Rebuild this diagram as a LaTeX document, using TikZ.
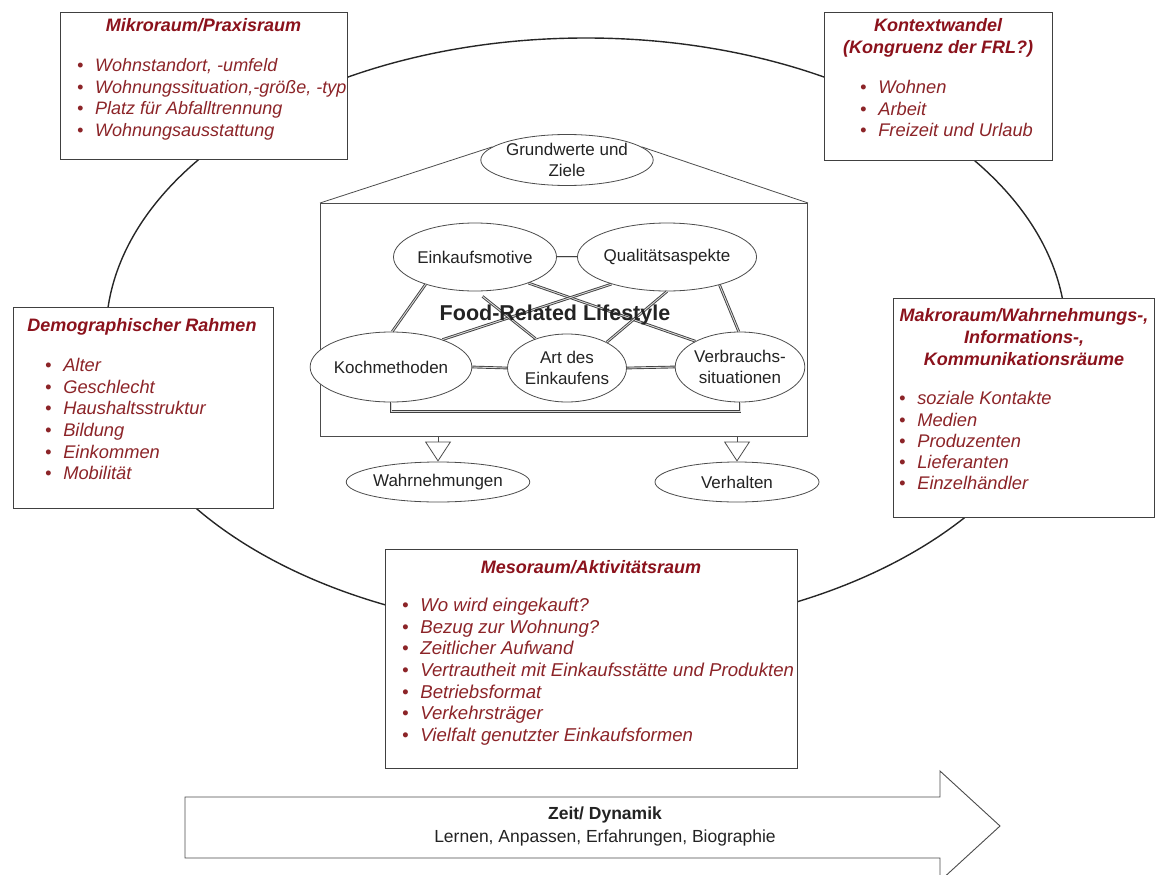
\documentclass[tikz,border=0pt]{standalone}
\usepackage{fontspec}
\setmainfont{Liberation Sans}
\usetikzlibrary{shapes.geometric,arrows.meta,calc}
\definecolor{titlered}{RGB}{139,18,28}
\definecolor{itemred}{RGB}{140,36,40}
\definecolor{ink}{RGB}{35,35,35}
\newcommand\bul{\textbullet\hspace{11.8pt}}
\newcommand\lstrut{\rule{0pt}{14pt}}

\begin{document}
\begin{tikzpicture}[x=1pt,y=-1pt,
  panel/.style={draw=black!75,line width=1pt,fill=white,inner sep=0pt,anchor=north west},
  paneltitle/.style={text=titlered,font=\fontsize{18}{22}\selectfont\bfseries\itshape,
    align=center,inner sep=0pt,anchor=north},
  panellist/.style={text=itemred,font=\fontsize{18.3}{21.6}\selectfont\itshape,
    align=left,inner sep=0pt,anchor=north west},
  bubble/.style={ellipse,draw=black!70,line width=0.8pt,fill=white,inner sep=0pt,
    text=ink,font=\fontsize{17}{20.5}\selectfont,align=center},
  link/.style={draw=black!75,double=black!15,double distance=0.9pt,line width=0.9pt},
  hollow/.style={draw=black!70,line width=0.8pt,-{Triangle[open,width=26pt,length=20pt]}},
]
\useasboundingbox (0,0) rectangle (1156,875);

% outer space of action
\node[ellipse,draw=black!85,line width=1.4pt,minimum width=960pt,minimum height=594pt,
  inner sep=0pt] (space) at (586,335) {};

% surrounding panels
\node[panel,minimum width=287pt,minimum height=147pt] (mikro) at (60,12) {};
\node[paneltitle] (mikro-t) at (203.5,17.5) {\lstrut Mikroraum/Praxisraum};
\node[panellist,font=\fontsize{18}{21.6}\selectfont\itshape] (mikro-l) at (76.9,57.5)
  {\lstrut\bul Wohnstandort, -umfeld\\
  \bul Wohnungssituation,-größe, -typ\\ \bul Platz für Abfalltrennung\\
  \bul Wohnungsausstattung};

\node[panel,minimum width=228pt,minimum height=148pt] (kontext) at (824,12) {};
\node[paneltitle] (kontext-t) at (938,17.5) {\lstrut Kontextwandel\\(Kongruenz der FRL?)};
\node[panellist] (kontext-l) at (859.9,79.5) {\lstrut\bul Wohnen\\ \bul Arbeit\\
  \bul Freizeit und Urlaub};

\node[panel,minimum width=260pt,minimum height=201pt] (demo) at (13,307) {};
\node[paneltitle] (demo-t) at (142,317.5) {\lstrut Demographischer Rahmen};
\node[panellist] (demo-l) at (44.9,357.5) {\lstrut\bul Alter\\ \bul Geschlecht\\
  \bul Haushaltsstruktur\\ \bul Bildung\\ \bul Einkommen\\ \bul Mobilität};

\node[panel,minimum width=261pt,minimum height=219pt] (makro) at (893,298) {};
\node[paneltitle] (makro-t) at (1024,307.5) {\lstrut Makroraum/Wahrnehmungs-,\\
  Informations-,\\ Kommunikationsräume};
\node[panellist,font=\fontsize{18.3}{21.3}\selectfont\itshape] (makro-l) at (898.9,390.5)
  {\lstrut\bul soziale Kontakte\\ \bul Medien\\ \bul Produzenten\\
  \bul Lieferanten\\ \bul Einzelhändler};

\node[panel,minimum width=412pt,minimum height=219pt] (meso) at (385,549) {};
\node[paneltitle] (meso-t) at (591,559.5) {\lstrut Mesoraum/Aktivitätsraum};
\node[panellist,font=\fontsize{18.6}{21.6}\selectfont\itshape] (meso-l) at (401.9,597.5)
  {\lstrut\bul Wo wird eingekauft?\\
  \bul Bezug zur Wohnung?\\ \bul Zeitlicher Aufwand\\
  \bul Vertrautheit mit Einkaufsstätte und Produkten\\ \bul Betriebsformat\\
  \bul Verkehrsträger\\ \bul Vielfalt genutzter Einkaufsformen};

% food-related lifestyle frame
\node[panel,draw=black!70,minimum width=487pt,minimum height=233pt] (frl) at (320,203) {};
\node[bubble,minimum width=159pt,minimum height=51pt] (gw) at (567,160)
  {Grundwerte und\\Ziele};
\draw[draw=black!70,line width=0.8pt] (frl.north west) -- (gw.170);
\draw[draw=black!70,line width=0.8pt] (frl.north east) -- (gw.10);

\node[bubble,minimum width=136pt,minimum height=68pt] (em) at (475,257) {Einkaufsmotive};
\node[bubble,minimum width=136pt,minimum height=68pt] (qa) at (667,257) {Qualitätsaspekte};
\node[bubble,minimum width=129pt,minimum height=70pt] (km) at (391,367) {Kochmethoden};
\node[bubble,minimum width=112pt,minimum height=68pt] (ae) at (567,368) {Art des\\Einkaufens};
\node[bubble,minimum width=121pt,minimum height=70pt] (vs) at (740,367) {Verbrauchs-\\situationen};

\draw[link] (em.east) -- (qa.west);
\draw[link] (em.209) -- (km.88);
\draw[link] (qa.332) -- (vs.92);
\draw[link] (em.334) -- (vs.150);
\draw[link] (qa.206) -- (km.28);
\draw[link] (qa.270) -- (ae.33);
\draw[link,shorten <=8pt] (em.272) -- (ae.137);
\draw[link] (km.east) -- (ae.west);
\draw[link] (ae.east) -- (vs.west);
\draw[link] (km.south) -- ++(0,9) -| (vs.south);

\node[text=ink,font=\fontsize{21.5}{24}\selectfont\bfseries,inner sep=0pt] (frl-t)
  at (555,315) {Food-Related Lifestyle};

% outcomes
\node[bubble,minimum width=173pt,minimum height=40pt] (wa) at (438,482) {Wahrnehmungen};
\node[bubble,minimum width=164pt,minimum height=40pt] (vh) at (737,482) {Verhalten};
\draw[hollow] (frl.south -| wa.north) -- (wa.north);
\draw[hollow] (frl.south -| vh.north) -- (vh.north);

% time arrow
\coordinate (ta1) at (185,797);
\coordinate (ta2) at (940,797);
\coordinate (ta3) at (940,771);
\coordinate (ta4) at (1000,826);
\coordinate (ta5) at (940,881);
\coordinate (ta6) at (940,858);
\coordinate (ta7) at (185,858);
\draw[draw=black!70,line width=0.9pt,fill=white,line join=miter]
  (ta1) -- (ta2) -- (ta3) -- (ta4) -- (ta5) -- (ta6) -- (ta7) -- cycle;
\node[text=ink,font=\fontsize{17.5}{23}\selectfont,align=center,inner sep=0pt] (time)
  at (605,826) {\textbf{Zeit/ Dynamik}\\Lernen, Anpassen, Erfahrungen, Biographie};
\end{tikzpicture}
\end{document}
